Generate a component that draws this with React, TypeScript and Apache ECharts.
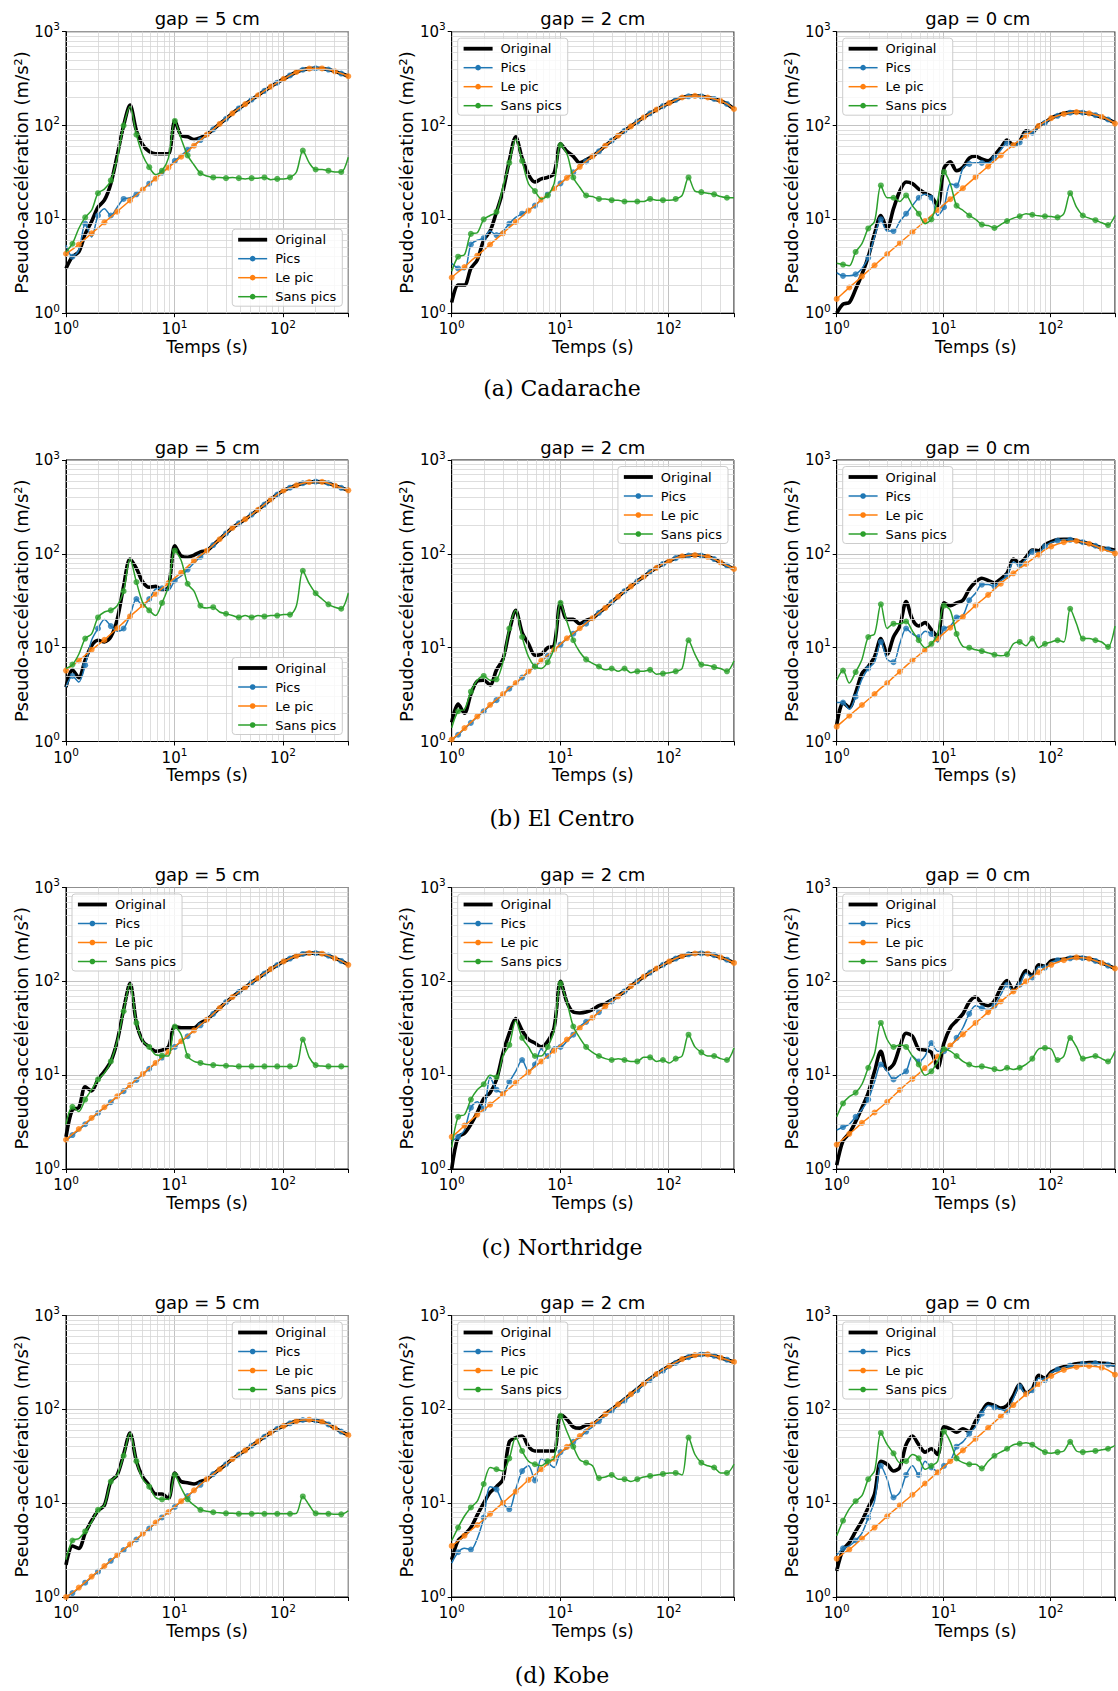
import React, { useEffect, useRef } from 'react';
import * as echarts from 'echarts';

// ---------- shared abscissa (periods, s) ----------
const PERIODS = [1, 1.146, 1.312, 1.503, 1.722, 1.972, 2.259, 2.588, 2.965, 3.396, 3.89, 4.457, 5.105, 5.848, 6.699, 7.674, 8.79, 10.07, 11.53, 13.21, 15.14, 17.34, 19.86, 22.75, 26.06, 29.85, 34.2, 39.17, 44.87, 51.4, 58.88, 67.45, 77.27, 88.51, 101.4, 116.1, 133, 152.4, 174.6, 200, 229.1, 262.4, 300.6, 344.4, 400];

const MINOR_X = [2, 3, 4, 5, 6, 7, 8, 9, 20, 30, 40, 50, 60, 70, 80, 90, 200, 300];
const MINOR_Y = [2, 3, 4, 5, 6, 7, 8, 9, 20, 30, 40, 50, 60, 70, 80, 90, 200, 300, 400, 500, 600, 700, 800, 900];

const SERIES_NAMES = ['Original', 'Pics', 'Le pic', 'Sans pics'];
const GAP_TITLES = ['gap = 5 cm', 'gap = 2 cm', 'gap = 0 cm'];
const CAPTIONS = ['(a) Cadarache', '(b) El Centro', '(c) Northridge', '(d) Kobe'];

// ---------- (a) Cadarache ----------
const CAD5_TAIL = [80, 91, 104, 118, 135, 152, 169, 189, 210, 234, 260, 286, 314, 342, 372, 393, 404, 408, 406, 395, 378, 358, 335];
const CAD5_ORIGINAL = [3.0, 4.0, 4.5, 7.0, 9.5, 13.5, 16, 24, 48, 100, 165, 88, 62, 53, 50, 50, 50, 112, 78, 76, 71, 74, ...CAD5_TAIL];
const CAD5_PICS = [5.3, 4.0, 4.7, 9.0, 6.5, 11, 13, 11, 13.5, 16.5, 17, 18.5, 21, 24, 27.5, 31.5, 36, 42, 48, 55, 62, 70, ...CAD5_TAIL];
const CAD5_LEPIC = [4.3, 4.8, 5.4, 6.2, 7.1, 8.1, 9.3, 10.6, 12.1, 13.9, 15.9, 18.2, 20.8, 23.8, 27.2, 31.1, 35.6, 40.7, 46.6, 53.3, 61, 70, ...CAD5_TAIL];
const CAD5_SANS = [4.5, 5.5, 8, 10.5, 12.5, 19, 21, 26, 45, 100, 160, 80, 48, 36, 30, 33, 45, 112, 72, 48, 38, 31, 29, 28, 28, 27.5, 28, 27.5, 27, 27.5, 27.5, 28, 26.5, 27, 27, 28, 32, 54, 40, 34, 34, 33, 32, 32, 46];

const CAD2_TAIL = [47, 53, 61, 69, 78, 88, 98, 110, 122, 135, 148, 161, 174, 187, 199, 205, 207, 205, 199, 192, 183, 170, 150];
const CAD2_ORIGINAL = [1.3, 2.0, 2.0, 3.0, 3.7, 6.0, 7.5, 12, 20, 42, 76, 45, 30, 25, 27, 28, 31, 64, 53, 47, 40, 43, ...CAD2_TAIL];
const CAD2_PICS = [3.4, 3.0, 2.9, 5.4, 6.0, 6.3, 7.5, 6.8, 7.5, 9, 10.5, 11.5, 12.5, 14, 16.2, 18.5, 21.2, 24.2, 27.7, 31.7, 36.3, 41.5, ...CAD2_TAIL];
const CAD2_LEPIC = [2.4, 2.75, 3.1, 3.6, 4.1, 4.7, 5.4, 6.2, 7.1, 8.2, 9.4, 10.8, 12.4, 14.1, 16.2, 18.5, 21.2, 24.2, 27.7, 31.7, 36.3, 41.5, ...CAD2_TAIL];
const CAD2_SANS = [2.8, 4.0, 4.2, 7, 7.2, 10, 11, 12, 22, 40, 72, 42, 24, 20, 16.5, 18, 24, 62, 50, 28, 22, 18, 17.5, 16.5, 16.5, 16, 16, 15.5, 15.5, 15.5, 15.5, 16.5, 16, 16, 16, 16.5, 18, 28, 20, 19.5, 19, 18.5, 17.5, 17, 17];

const CAD0_ORIGINAL = [1.0, 1.25, 1.3, 1.8, 2.6, 4.0, 7, 11, 8, 13, 20, 25, 24, 21, 19, 17.5, 14, 35, 41, 33, 36, 45, 47, 44, 42, 48, 58, 70, 62, 68, 88, 85, 100, 108, 120, 128, 135, 138, 139, 137, 134, 129, 123, 116, 107];
const CAD0_PICS = [2.7, 2.5, 2.5, 2.6, 3.0, 3.9, 6.5, 10, 7.5, 7.5, 9.5, 11.5, 14, 17, 18.5, 17, 11, 13.5, 24, 23, 35, 39, 40, 40, 40, 45, 55, 65, 60, 66, 85, 84, 98, 107, 119, 127, 134, 137, 138, 137, 134, 129, 123, 116, 107];
const CAD0_LEPIC = [1.42, 1.63, 1.88, 2.15, 2.47, 2.83, 3.24, 3.72, 4.27, 4.9, 5.6, 6.4, 7.3, 8.4, 9.6, 11, 12.6, 14.4, 16.4, 18.8, 21.5, 24.6, 28.2, 32.2, 36.7, 42, 48, 55, 62, 70, 78, 88, 99, 110, 120, 127, 133, 137, 139, 138, 135, 130, 124, 116, 105];
const CAD0_SANS = [3.4, 3.3, 3.2, 4.5, 5.5, 8, 9.5, 23, 17, 17, 15.5, 18, 14, 11.5, 9, 10, 16, 32, 24, 14, 12.5, 11, 10, 8.8, 8.6, 8.1, 8.8, 9.6, 10.3, 10.8, 11.5, 11.2, 10.9, 10.8, 10.7, 10.5, 11.5, 19, 13.5, 11, 10.3, 9.8, 9.2, 8.7, 11];

// ---------- (b) El Centro ----------
const ELC5_TAIL = [108, 124, 143, 165, 189, 211, 234, 262, 295, 335, 380, 428, 473, 507, 538, 565, 582, 588, 585, 565, 532, 505, 475];
const ELC5_ORIGINAL = [3.8, 5.8, 4.8, 7.4, 10.5, 12, 11.5, 13, 20, 45, 88, 70, 50, 44, 45, 41, 44, 122, 95, 92, 97, 105, ...ELC5_TAIL];
const ELC5_PICS = [3.8, 5, 4.3, 6.5, 12, 16, 20, 17, 15, 16, 22, 33, 28, 33, 42, 43, 41, 52, 58, 68, 80, 93, ...ELC5_TAIL];
const ELC5_LEPIC = [5.7, 6.5, 7.3, 8.3, 9.5, 10.7, 12.1, 14, 16.1, 18.6, 21.5, 24.7, 28.4, 32.7, 37.5, 42.8, 48.7, 55.5, 63, 73, 85, 96, ...ELC5_TAIL];
const ELC5_SANS = [6.0, 6.6, 8.5, 12.5, 14, 21, 24, 25, 28, 40, 88, 50, 30, 25, 22, 30, 45, 108, 85, 48, 40, 28, 26.5, 27, 24, 23, 22, 21, 22, 21, 22, 21.5, 22, 22, 22.5, 22.5, 28, 66, 48, 38, 33, 29, 27, 26, 38];

const ELC2_TAIL = [20.6, 23.5, 26.5, 30.5, 35, 40, 45, 51, 57, 64, 71, 78, 84, 90, 94, 96, 97, 96, 93, 88, 81, 75, 69];
const ELC2_ORIGINAL = [1.6, 2.5, 2.0, 3.2, 4.4, 4.5, 4.0, 5.8, 7.5, 15, 25, 14.5, 11, 8.3, 8.5, 10, 10.5, 30, 20, 20, 18, 19.5, ...ELC2_TAIL];
const ELC2_PICS = [1.03, 1.18, 1.37, 1.58, 1.83, 2.1, 2.42, 2.76, 3.15, 3.65, 4.15, 4.8, 5.5, 6.3, 7.2, 8.2, 9.4, 10.8, 12.4, 14.1, 15.9, 18.0, ...ELC2_TAIL];
const ELC2_LEPIC = [1.05, 1.2, 1.39, 1.6, 1.85, 2.13, 2.46, 2.8, 3.2, 3.7, 4.2, 4.85, 5.6, 6.4, 7.3, 8.3, 9.5, 10.9, 12.6, 14.3, 16.1, 18.3, ...ELC2_TAIL];
const ELC2_SANS = [1.4, 2.1, 2.2, 3.4, 4.5, 5.0, 4.5, 4.6, 7, 16, 25, 13, 8, 6.3, 6.0, 7, 10, 30, 19, 12, 9, 7.5, 6.8, 6.3, 5.8, 6.0, 5.6, 6.0, 5.4, 5.6, 5.6, 5.8, 5.2, 5.3, 5.4, 5.6, 6, 12, 8.5, 6.6, 6.5, 6.2, 6, 5.6, 7.2];

const ELC0_ORIGINAL = [1.5, 2.6, 2.3, 3.3, 5.3, 6.3, 8, 12.5, 8.5, 13, 17, 31, 20, 17, 18.5, 15.5, 13, 30, 28, 30, 32, 42, 50, 55, 52, 49, 54, 62, 88, 80, 92, 110, 108, 125, 135, 142, 143, 143, 138, 133, 128, 122, 116, 113, 109];
const ELC0_PICS = [2.6, 2.6, 2.2, 3.0, 4.6, 6.0, 7, 11.5, 7.5, 7, 11, 16, 14, 13, 15, 14, 11.5, 16, 17, 21, 22, 32, 38, 47, 47, 45, 52, 58, 82, 76, 88, 105, 104, 120, 132, 138, 142, 141, 137, 133, 128, 122, 116, 112, 108];
const ELC0_LEPIC = [1.44, 1.65, 1.88, 2.15, 2.45, 2.8, 3.2, 3.7, 4.2, 4.85, 5.55, 6.4, 7.3, 8.3, 9.4, 10.9, 12.5, 14.3, 16.3, 18.7, 21.3, 24.5, 28.2, 32, 36.5, 42, 48, 55, 62, 70, 78, 88, 98, 110, 120, 127, 133, 136, 137, 133, 128, 121, 113, 107, 101];
const ELC0_SANS = [4.5, 5.7, 4.2, 5.5, 7.5, 13, 14, 29, 16, 18, 18, 19, 15, 12, 10, 11, 14, 28, 25, 14, 10.3, 10, 9.5, 9.2, 8.8, 8.4, 8.2, 8.5, 11, 11.5, 10.5, 12.5, 10, 11, 11.5, 12, 11.5, 26, 18, 12.5, 12.5, 12, 11.5, 10.2, 17];

// ---------- (c) Northridge ----------
const NOR5_TAIL = [39, 45, 52, 60, 68, 77, 86, 97, 108, 121, 135, 149, 163, 175, 187, 196, 200, 200, 197, 188, 176, 165, 150];
const NOR5_ORIGINAL = [2.2, 4.3, 4.5, 7.5, 6.8, 9, 11, 14, 23, 50, 95, 36, 23, 20, 18, 18.5, 20, 33, 32, 32, 32, 36, ...NOR5_TAIL];
const NOR5_PICS = [2.0, 2.3, 2.6, 3.0, 3.45, 3.95, 4.5, 5.15, 5.9, 6.75, 7.8, 8.9, 10.2, 11.7, 13.4, 15.4, 17.5, 20, 22.7, 26, 29.7, 34, ...NOR5_TAIL];
const NOR5_LEPIC = [2.05, 2.35, 2.67, 3.05, 3.5, 4.0, 4.55, 5.2, 5.95, 6.8, 7.85, 9.0, 10.3, 11.8, 13.5, 15.5, 17.7, 20.2, 23, 26.3, 30, 34.3, ...NOR5_TAIL];
const NOR5_SANS = [3.0, 4.6, 4.1, 5.5, 7, 9, 10.5, 14, 23, 48, 95, 36, 23, 20, 16.5, 16.2, 16, 33, 27, 16, 14, 13.5, 13, 12.8, 12.7, 12.6, 12.5, 12.4, 12.4, 12.4, 12.4, 12.4, 12.4, 12.4, 12.4, 12.4, 12.5, 24, 15.5, 12.8, 12.5, 12.4, 12.4, 12.4, 12.4];

const NOR2_TAIL = [41, 47, 54, 61, 69, 78, 89, 100, 112, 124, 137, 150, 163, 175, 186, 194, 198, 199, 197, 190, 180, 170, 157];
const NOR2_ORIGINAL = [1.0, 2.2, 2.4, 3.0, 4.0, 5.6, 6.5, 9, 17, 28, 40, 30, 24, 22, 20, 23, 32, 100, 60, 47, 46, 47, 50, 55, 58, 63, 70, 78, 89, 100, 112, 124, 137, 150, 163, 175, 186, 194, 198, 199, 197, 190, 180, 170, 157];
const NOR2_PICS = [2.0, 2.2, 2.6, 4.5, 5.2, 4.4, 9.5, 7, 6.5, 8.5, 11, 14.5, 11, 13, 19, 16, 20, 20, 23, 27, 33, 37, ...NOR2_TAIL];
const NOR2_LEPIC = [2.2, 2.5, 2.9, 3.3, 3.8, 4.3, 4.85, 5.5, 6.3, 7.2, 8.3, 9.5, 10.8, 12.3, 14, 16, 18.2, 20.9, 24, 27.5, 31.8, 36, ...NOR2_TAIL];
const NOR2_SANS = [1.7, 3.6, 3.8, 5.5, 7.0, 8, 10, 9.5, 16, 21, 38, 25, 20, 16, 16, 20, 30, 95, 60, 33, 25, 20, 17.5, 16, 15, 14.5, 15, 14.5, 14, 14, 15.5, 15.5, 14, 14.5, 13.5, 15, 16, 27, 20, 17.5, 16, 16, 15, 14.5, 19.5];

const NOR0_ORIGINAL = [1.1, 2.0, 2.4, 3.2, 4.5, 6.5, 11, 18, 11.5, 13, 20, 28, 26, 19, 18.5, 17.5, 12, 22, 32, 38, 45, 60, 68, 58, 55, 62, 85, 102, 80, 100, 130, 115, 150, 145, 165, 170, 172, 178, 180, 178, 174, 166, 157, 148, 137];
const NOR0_PICS = [2.6, 2.8, 3.0, 3.6, 4.3, 5.5, 8.5, 13, 11, 9, 10, 11, 16, 14, 16, 22, 18, 18, 20, 25, 32, 45, 55, 52, 50, 55, 72, 92, 78, 92, 122, 110, 142, 140, 160, 168, 170, 176, 178, 177, 173, 165, 156, 147, 136];
const NOR0_LEPIC = [1.82, 2.08, 2.37, 2.7, 3.1, 3.5, 4.0, 4.55, 5.2, 6.0, 6.95, 8.0, 9.1, 10.4, 11.9, 13.6, 15.8, 18.1, 20.7, 23.8, 27.2, 31.3, 36, 41, 47, 53.5, 61, 69, 78, 88.5, 100, 112, 125, 138, 150, 160, 168, 175, 180, 178, 174, 166, 157, 148, 137];
const NOR0_SANS = [3.6, 5.0, 5.9, 6.5, 8, 12, 17, 36, 24, 20, 21, 20, 16, 13, 10, 11, 14, 19, 18, 16, 14, 13, 12.3, 12.4, 12, 11.6, 11.2, 12, 11.5, 12, 13, 15, 19, 19.5, 19, 14.5, 16, 25, 20, 15, 15.5, 16, 15, 14, 18];

// ---------- (d) Kobe ----------
const KOB5_TAIL = [18, 20.4, 23, 26, 29.5, 33, 36.5, 41, 45.5, 51, 56.5, 62, 66.5, 71, 75, 77, 77.5, 76, 73.5, 69, 63, 58, 53];
const KOB5_ORIGINAL = [2.2, 3.5, 3.3, 4.8, 6.5, 8.3, 9.5, 17, 20, 33, 56, 28, 19, 15.5, 12.5, 12.5, 11.2, 21, 17, 16.5, 16, 17, ...KOB5_TAIL];
const KOB5_PICS = [1.0, 1.1, 1.24, 1.42, 1.63, 1.86, 2.12, 2.43, 2.78, 3.17, 3.6, 4.1, 4.7, 5.35, 6.15, 7.05, 8.0, 9.1, 10.4, 11.9, 13.6, 15.7, ...KOB5_TAIL];
const KOB5_LEPIC = [1.0, 1.11, 1.26, 1.44, 1.65, 1.88, 2.14, 2.45, 2.8, 3.2, 3.64, 4.15, 4.73, 5.4, 6.2, 7.1, 8.05, 9.2, 10.5, 12, 13.7, 15.8, ...KOB5_TAIL];
const KOB5_SANS = [2.5, 4.0, 4.2, 5, 6.3, 8.5, 9.5, 17, 20, 32, 56, 28, 18, 15, 11.5, 11, 11, 20, 14.5, 11, 9.5, 8.5, 8.2, 8.0, 7.9, 7.8, 7.8, 7.7, 7.7, 7.7, 7.8, 7.7, 7.7, 7.7, 7.7, 7.7, 7.8, 11.8, 9.5, 7.8, 7.7, 7.7, 7.6, 7.6, 8.3];

const KOB2_TAIL = [69, 78, 89, 100, 113, 128, 145, 165, 188, 212, 238, 264, 290, 316, 343, 363, 378, 385, 385, 372, 355, 338, 320];
const KOB2_ORIGINAL = [2.5, 4.0, 4.6, 5.5, 7.5, 10, 13, 15, 18, 45, 50, 52, 40, 36, 36, 36, 36, 88, 78, 65, 63, 68, ...KOB2_TAIL];
const KOB2_PICS = [2.3, 3.0, 3.3, 3.2, 4.2, 7, 15, 14, 10, 8.6, 14, 22, 25, 17.5, 30, 27, 24, 35, 38, 45, 50, 58, 65, 75, 85, 97, 110, 124, 140, 160, 182, 206, 232, 258, 284, 312, 340, 360, 376, 384, 384, 372, 355, 338, 318];
const KOB2_LEPIC = [3.5, 3.95, 4.5, 5.15, 5.85, 6.7, 7.7, 8.8, 10.1, 11.6, 13.3, 15.3, 17.7, 20.2, 23, 26.2, 29.8, 34.5, 39.8, 45.5, 52, 60, ...KOB2_TAIL];
const KOB2_SANS = [4.0, 5.5, 7.3, 9, 10.5, 16, 24, 23, 22, 30, 50, 36, 28, 26, 25, 28, 30, 85, 58, 40, 29, 27, 25, 18.5, 19, 20, 18, 18, 17, 18, 19, 19.5, 20, 20.5, 21, 21, 20, 50, 33, 27, 25, 24, 21, 21, 26];

const KOB0_ORIGINAL = [1.9, 3.2, 3.8, 5.0, 6.5, 9, 12.5, 28, 26, 22, 24, 42, 52, 42, 35, 38, 33, 65, 62, 57, 62, 58, 75, 95, 115, 110, 103, 110, 140, 185, 150, 165, 230, 215, 250, 270, 285, 295, 305, 310, 315, 315, 310, 305, 295];
const KOB0_PICS = [2.8, 3.3, 3.5, 4.0, 4.8, 7, 10.5, 25, 18, 11.5, 13, 20, 25, 20, 28, 24, 22, 25, 28, 40, 45, 55, 65, 90, 110, 105, 100, 95, 130, 175, 145, 160, 215, 205, 245, 265, 280, 292, 300, 305, 310, 310, 305, 300, 290];
const KOB0_LEPIC = [2.56, 2.9, 3.2, 3.65, 4.2, 4.8, 5.5, 6.3, 7.25, 8.3, 9.45, 10.8, 12.3, 14.1, 16.2, 18.6, 21.3, 24.5, 28, 32, 36.5, 42, 48.5, 55.5, 63.5, 73, 84, 97, 111, 127, 145, 165, 186, 207, 227, 246, 263, 275, 283, 288, 290, 286, 278, 262, 234];
const KOB0_SANS = [4.5, 6.5, 8.7, 10.5, 12, 18, 22, 56, 42, 34, 27, 28, 33, 30, 23, 25, 28, 58, 45, 30, 27, 26, 26, 23.5, 28, 32, 35, 38, 42, 43, 44, 42, 38, 35, 34, 35, 36, 45, 36, 35, 35.5, 36, 37, 38, 41];

type LegendCorner = 'ul' | 'ur' | 'lr';
type Panel = { curves: number[][]; legend: LegendCorner };

const PANELS: Panel[] = [
  { curves: [CAD5_ORIGINAL, CAD5_PICS, CAD5_LEPIC, CAD5_SANS], legend: 'lr' },
  { curves: [CAD2_ORIGINAL, CAD2_PICS, CAD2_LEPIC, CAD2_SANS], legend: 'ul' },
  { curves: [CAD0_ORIGINAL, CAD0_PICS, CAD0_LEPIC, CAD0_SANS], legend: 'ul' },
  { curves: [ELC5_ORIGINAL, ELC5_PICS, ELC5_LEPIC, ELC5_SANS], legend: 'lr' },
  { curves: [ELC2_ORIGINAL, ELC2_PICS, ELC2_LEPIC, ELC2_SANS], legend: 'ur' },
  { curves: [ELC0_ORIGINAL, ELC0_PICS, ELC0_LEPIC, ELC0_SANS], legend: 'ul' },
  { curves: [NOR5_ORIGINAL, NOR5_PICS, NOR5_LEPIC, NOR5_SANS], legend: 'ul' },
  { curves: [NOR2_ORIGINAL, NOR2_PICS, NOR2_LEPIC, NOR2_SANS], legend: 'ul' },
  { curves: [NOR0_ORIGINAL, NOR0_PICS, NOR0_LEPIC, NOR0_SANS], legend: 'ul' },
  { curves: [KOB5_ORIGINAL, KOB5_PICS, KOB5_LEPIC, KOB5_SANS], legend: 'ur' },
  { curves: [KOB2_ORIGINAL, KOB2_PICS, KOB2_LEPIC, KOB2_SANS], legend: 'ul' },
  { curves: [KOB0_ORIGINAL, KOB0_PICS, KOB0_LEPIC, KOB0_SANS], legend: 'ul' },
];

// ---------- layout & style ----------
const W = 1118;
const H = 1691;
const COL_LEFT = [66, 451.7, 836.7];
const ROW_TOP = [31.7, 460, 887.5, 1315.5];
const PW = 282.3;
const PH = 281.5;
const FONT = 'DejaVu Sans';
const COLORS = ['#000000', '#1f77b4', '#ff7f0e', '#2ca02c'];
const MARKER_OFFSET = [-1, 1, 0, 1];

function powLabel(v: number): string {
  const e = Math.log10(v);
  const r = Math.round(e);
  if (Math.abs(e - r) > 1e-6) return '';
  return '{b|10}{s|' + r + '}';
}

const LABEL_RICH = {
  b: { fontSize: 15, fontFamily: FONT, color: '#000', lineHeight: 22 },
  s: { fontSize: 10.5, fontFamily: FONT, color: '#000', lineHeight: 12, verticalAlign: 'top' },
};

function legendPos(kind: LegendCorner, left: number, top: number) {
  if (kind === 'ul') return { left: left + 6, top: top + 6.5 };
  if (kind === 'ur') return { right: W - (left + PW - 6), top: top + 6.5 };
  return { right: W - (left + PW - 6), bottom: H - (top + PH - 7) };
}

function buildOption() {
  const grid: any[] = [];
  const xAxis: any[] = [];
  const yAxis: any[] = [];
  const series: any[] = [];
  const legend: any[] = [];
  const elements: any[] = [];

  PANELS.forEach((p, i) => {
    const r = Math.floor(i / 3);
    const c = i % 3;
    const left = COL_LEFT[c];
    const top = ROW_TOP[r];

    grid.push({ left, top, width: PW, height: PH, show: true, borderColor: '#000', borderWidth: 1, backgroundColor: 'transparent' });

    const common = {
      type: 'log',
      logBase: 10,
      gridIndex: i,
      axisLine: { show: true, lineStyle: { color: '#000', width: 1 } },
      axisTick: { show: true, inside: false, length: 4, lineStyle: { color: '#000', width: 1 } },
      splitLine: { show: true, lineStyle: { color: '#b4b4b4', width: 0.8 } },
      nameTextStyle: { fontFamily: FONT, color: '#000' },
    };

    xAxis.push({
      ...common,
      min: 1,
      max: 400,
      axisLabel: { formatter: powLabel, rich: LABEL_RICH, margin: 5, showMinLabel: true, showMaxLabel: true },
      name: 'Temps (s)',
      nameLocation: 'middle',
      nameGap: 25,
      nameTextStyle: { fontFamily: FONT, color: '#000', fontSize: 17 },
    });
    yAxis.push({
      ...common,
      min: 1,
      max: 1000,
      axisLabel: { formatter: powLabel, rich: LABEL_RICH, margin: 6, showMinLabel: true, showMaxLabel: true },
      name: 'Pseudo-accélération (m/s²)',
      nameLocation: 'middle',
      nameRotate: 90,
      nameGap: 36,
      nameTextStyle: { fontFamily: FONT, color: '#000', fontSize: 18 },
    });

    // minor grid lines
    series.push({
      type: 'line',
      name: '__grid' + i,
      xAxisIndex: i,
      yAxisIndex: i,
      data: [[1, 1]],
      symbol: 'none',
      lineStyle: { opacity: 0 },
      silent: true,
      z: 1,
      markLine: {
        silent: true,
        symbol: ['none', 'none'],
        label: { show: false },
        lineStyle: { color: '#d6d6d6', width: 0.8, type: 'solid' },
        emphasis: { disabled: true },
        data: [...MINOR_X.map((v) => ({ xAxis: v })), ...MINOR_Y.map((v) => ({ yAxis: v }))],
      },
    });

    p.curves.forEach((ys, k) => {
      const pts = PERIODS.map((x, j) => [x, ys[j]]);
      const isOrig = k === 0;
      series.push({
        type: 'line',
        name: SERIES_NAMES[k],
        xAxisIndex: i,
        yAxisIndex: i,
        data: pts,
        smooth: 0.3,
        symbol: isOrig ? 'none' : 'circle',
        showSymbol: false,
        lineStyle: { color: COLORS[k], width: isOrig ? 3.6 : 1.5 },
        itemStyle: { color: COLORS[k] },
        emphasis: { disabled: true },
        silent: true,
        z: 2 + k,
      });
      if (!isOrig) {
        series.push({
          type: 'scatter',
          name: SERIES_NAMES[k],
          xAxisIndex: i,
          yAxisIndex: i,
          data: pts.filter((_, j) => j % 2 === MARKER_OFFSET[k]),
          symbol: 'circle',
          symbolSize: 6,
          itemStyle: { color: COLORS[k] },
          emphasis: { disabled: true },
          silent: true,
          z: 2 + k,
        });
      }
    });

    legend.push({
      orient: 'vertical',
      ...legendPos(p.legend, left, top),
      data: [
        { name: 'Original', itemStyle: { opacity: 0 }, lineStyle: { width: 3.8 } },
        { name: 'Pics', lineStyle: { width: 1.5 } },
        { name: 'Le pic', lineStyle: { width: 1.5 } },
        { name: 'Sans pics', lineStyle: { width: 1.5 } },
      ],
      itemWidth: 29,
      itemHeight: 7,
      itemGap: 4,
      textStyle: { fontSize: 13, lineHeight: 15, color: '#000', fontFamily: FONT, padding: [0, 0, 0, 3] },
      padding: [3, 6, 2, 4],
      backgroundColor: 'rgba(255,255,255,0.8)',
      borderColor: '#cccccc',
      borderWidth: 1,
      borderRadius: 3,
      selectedMode: false,
      z: 10,
    });

    elements.push({
      type: 'text',
      x: left + PW / 2,
      y: top - 13,
      style: {
        text: GAP_TITLES[c],
        fontSize: 18,
        fontFamily: FONT,
        fill: '#000',
        align: 'center',
        textAlign: 'center',
        verticalAlign: 'middle',
        textVerticalAlign: 'middle',
      },
    });
  });

  const CAPTION_Y = [388, 818, 1247, 1675];
  CAPTIONS.forEach((t, r) => {
    elements.push({
      type: 'text',
      x: 562,
      y: CAPTION_Y[r],
      style: {
        text: t,
        fontSize: 22,
        fontFamily: 'DejaVu Serif',
        fill: '#000',
        align: 'center',
        textAlign: 'center',
        verticalAlign: 'middle',
        textVerticalAlign: 'middle',
      },
    });
  });

  return {
    animation: false,
    backgroundColor: '#ffffff',
    grid,
    xAxis,
    yAxis,
    series,
    legend,
    graphic: { elements },
  };
}

export default function App() {
  const ref = useRef<HTMLDivElement>(null);
  useEffect(() => {
    if (!ref.current) return;
    const chart = echarts.init(ref.current, null, { renderer: 'svg' });
    chart.setOption(buildOption() as any);
    return () => chart.dispose();
  }, []);
  return <div ref={ref} style={{ position: 'absolute', left: 0, top: 0, width: W, height: H }} />;
}
